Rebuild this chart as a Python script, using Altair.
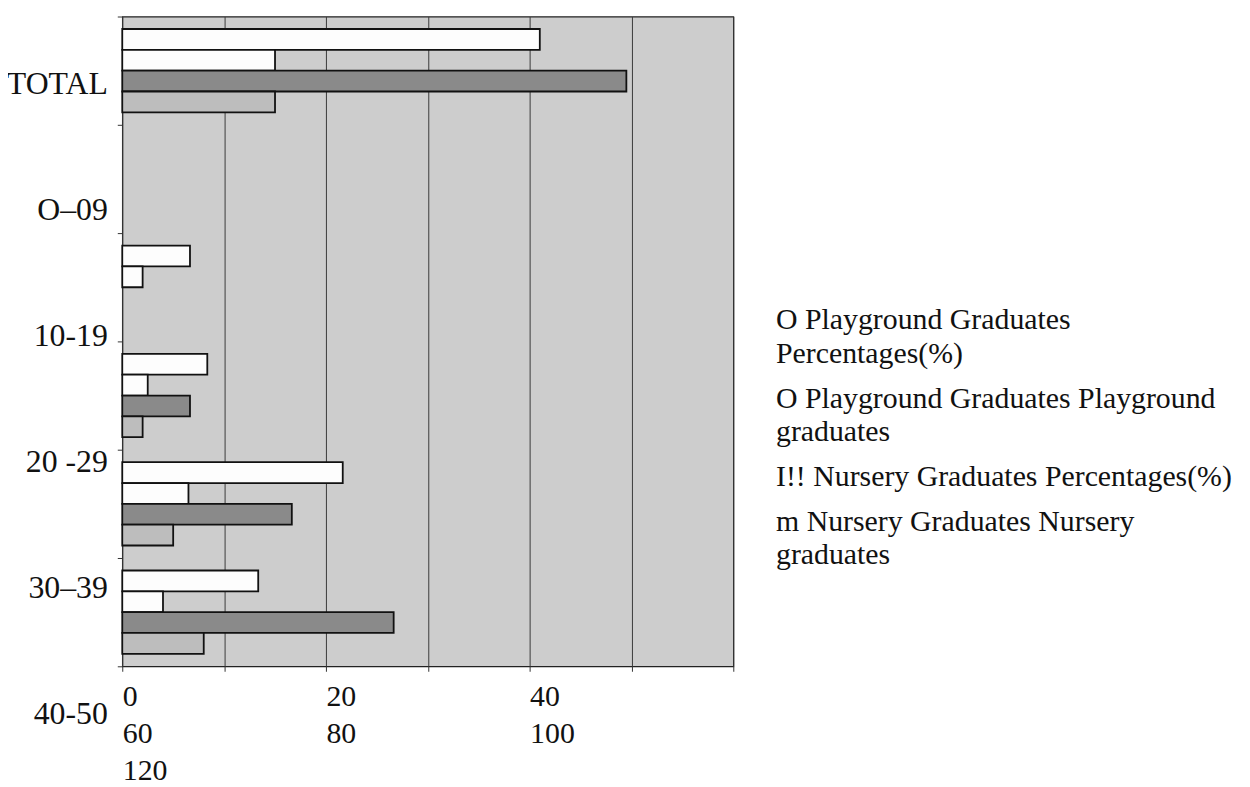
import json
import altair as alt
import pandas as pd

# ---- data ----
categories = ["TOTAL", "O–09", "10-19", "20 -29", "30–39", "40-50"]
series = [
    "Playground Graduates Percentages(%)",
    "Playground Graduates Playground graduates",
    "Nursery Graduates Percentages(%)",
    "Nursery Graduates Nursery graduates",
]
playground_pct = [82, 0, 13.3, 16.7, 43.3, 26.7]
playground_cnt = [30, 0, 4, 5, 13, 8]
nursery_pct = [99, 0, 0, 13.3, 33.3, 53.3]
nursery_cnt = [30, 0, 0, 4, 10, 16]

# tick labels as they appear (wrapped in three rows)
x_label_rows = [["0", "20", "40"], ["60", "80", "100"], ["120"]]
x_label_ticks = [0, 40, 80]
x_grid_values = [0, 20, 40, 60, 80, 100, 120]

legend_lines = [
    ["O Playground Graduates", "Percentages(%)"],
    ["O Playground Graduates Playground", "graduates"],
    ["I!! Nursery Graduates Percentages(%)"],
    ["m Nursery Graduates Nursery", "graduates"],
]
colors = ["#fdfdfd", "#fdfdfd", "#8a8a8a", "#bdbdbd"]

# ---- table ----
rows = []
for i, c in enumerate(categories):
    for s, vals in zip(series, [playground_pct, playground_cnt, nursery_pct, nursery_cnt]):
        rows.append({"group": c, "series": s, "value": vals[i]})
df = pd.DataFrame(rows)

FONT = "Liberation Serif"

# x label expression: each labelled tick gets a multi-line label
x_cols = {}
for r in x_label_rows:
    for j, t in enumerate(r):
        x_cols.setdefault(x_label_ticks[j], []).append(t)
x_expr = "''"
for tick in reversed(x_label_ticks):
    x_expr = f"datum.value == {tick} ? {json.dumps(x_cols[tick])} : ({x_expr})"

# legend label expression
leg_expr = "datum.label"
for s, lines in reversed(list(zip(series, legend_lines))):
    leg_expr = f"datum.label === {json.dumps(s)} ? {json.dumps(lines)} : ({leg_expr})"

# y label offsets (labels drift downward in the scan)
y_off_cond = [
    {"test": f"datum.value === {json.dumps(c)}", "value": 12.5 + 18 * i}
    for i, c in enumerate(categories[:-1])
]
y_label_offset = {"condition": y_off_cond, "value": 12.5 + 18 * (len(categories) - 1)}

bars = (
    alt.Chart(df)
    .transform_filter("datum.value > 0")
    .mark_bar(stroke="#111111", strokeWidth=1.8)
    .encode(
        x=alt.X(
            "value:Q",
            scale=alt.Scale(domain=[0, 120], nice=False),
            axis=alt.Axis(
                title=None,
                values=x_grid_values,
                labelExpr=x_expr,
                labelAlign="left",
                labelBaseline="top",
                labelFlush=False,
                labelOverlap=False,
                labelPadding=10,
                labelLineHeight=37.5,
                labelFont=FONT,
                labelFontSize=30,
                labelColor="#111111",
                tickSize=5,
                tickColor="#333333",
                grid=True,
                gridColor="#3a3a3a",
                gridWidth=1,
                domain=False,
            ),
        ),
        y=alt.Y(
            "group:N",
            scale=alt.Scale(domain=categories, paddingInner=0, paddingOuter=0),
            axis=alt.Axis(
                title=None,
                tickBand="extent",
                labelOffset=y_label_offset,
                labelFont=FONT,
                labelFontSize=32,
                labelColor="#111111",
                labelPadding=10,
                labelLimit=300,
                tickSize=5,
                tickColor="#333333",
                domain=False,
            ),
        ),
        yOffset=alt.YOffset(
            "series:N",
            scale=alt.Scale(domain=series, paddingInner=0, paddingOuter=0.6),
        ),
        fill=alt.Fill(
            "series:N",
            scale=alt.Scale(domain=series, range=colors),
            legend=alt.Legend(
                title=None,
                orient="none",
                legendX=628,
                legendY=276,
                labelExpr=leg_expr,
                labelFont=FONT,
                labelFontSize=30,
                labelColor="#111111",
                labelBaseline="top",
                labelOffset=0,
                labelLimit=700,
                symbolOpacity=0,
                symbolStrokeWidth=0,
                symbolSize=1,
                rowPadding=0,
                padding=0,
            ),
        ),
    )
)

chart = (
    bars.properties(
        width=615,
        height=654,
        autosize=alt.AutoSizeParams(type="none"),
        padding={"left": 115, "top": 6, "right": 512, "bottom": 130},
    )
    .configure(background="white", style={"guide-label": {"lineHeight": 33.5}})
    .configure_view(fill="#cdcdcd", stroke="#222222", strokeWidth=1.2)
)

chart.save("out.html", embed_options={"renderer": "svg", "actions": False})
